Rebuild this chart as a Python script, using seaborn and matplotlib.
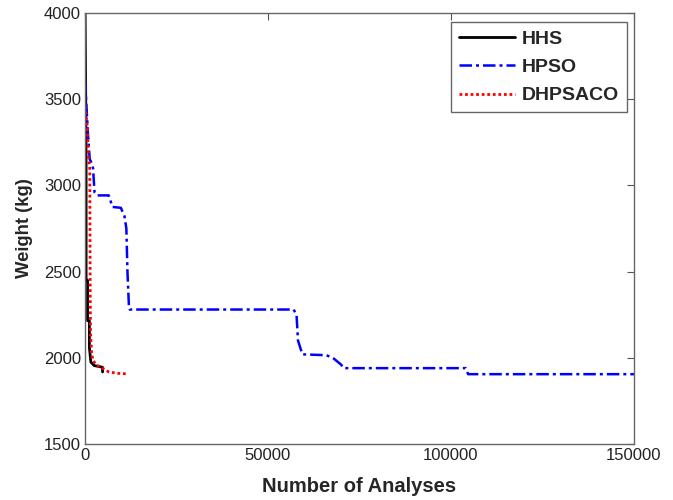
import matplotlib
matplotlib.use("Agg")
import matplotlib.pyplot as plt
import seaborn as sns
import pandas as pd

# Convergence histories: weight (kg) versus number of structural analyses
hhs_x = [0, 200, 300, 300, 700, 700, 1200, 1200, 1600, 2500, 4800, 4800]
hhs_y = [4100, 3500, 3130, 2450, 2450, 2215, 2215, 2060, 1975, 1955, 1945, 1918]

hpso_x = [0, 300, 800, 1300, 1600, 2200, 2600, 3300, 6500, 7500, 9800, 10800,
          11300, 11600, 12000, 12200, 57000, 57800, 58200, 59400, 66000, 68000,
          70000, 70600, 104000, 104700, 150000]
hpso_y = [3610, 3500, 3300, 3150, 3140, 3100, 2960, 2942, 2942, 2875, 2870, 2820,
          2750, 2500, 2300, 2280, 2280, 2250, 2100, 2020, 2015, 1995,
          1960, 1940, 1940, 1905, 1905]

dh_x = [0, 600, 1000, 1300, 1400, 1500, 1800, 2200, 3000, 4400, 6500, 9000, 11200]
dh_y = [3460, 3350, 3150, 3100, 2500, 2150, 2030, 1985, 1960, 1945, 1918, 1910, 1907]

sns.set_theme(style="white")
plt.rcParams["font.family"] = ["Liberation Sans", "DejaVu Sans"]

fig = plt.figure(figsize=(6.73, 5.0), dpi=100)
ax = fig.add_axes([0.1263, 0.112, 0.8157, 0.862])

series = [
    ("HHS", hhs_x, hhs_y, "black", "-", 2.0),
    ("HPSO", hpso_x, hpso_y, "#0000ff", (0, (5, 1.6, 1.2, 1.6)), 1.8),
    ("DHPSACO", dh_x, dh_y, "#ff0000", (0, (1.0, 1.0)), 2.0),
]
for name, xs, ys, col, ls, lw in series:
    df = pd.DataFrame({"x": xs, "y": ys})
    sns.lineplot(data=df, x="x", y="y", ax=ax, sort=False, estimator=None,
                 color=col, linestyle=ls, linewidth=lw, label=name)

ax.set_xlim(0, 150000)
ax.set_ylim(1500, 4000)
ax.set_xticks([0, 50000, 100000, 150000])
ax.set_yticks([1500, 2000, 2500, 3000, 3500, 4000])
ax.tick_params(direction="in", length=5, width=0.8, color="#555555",
               top=True, right=True, labelsize=12, labelcolor="#222222", pad=3)
for sp in ax.spines.values():
    sp.set_color("#666666")
    sp.set_linewidth(1.0)

ax.set_xlabel("Number of Analyses", fontsize=14.5, fontweight="bold", labelpad=10)
ax.set_ylabel("Weight (kg)", fontsize=13.3, fontweight="bold", labelpad=8)

leg = ax.legend(loc="upper right", bbox_to_anchor=(0.987, 0.978), fancybox=False,
                framealpha=1, edgecolor="#666666", prop={"weight": "bold", "size": 14},
                handlelength=2.9, borderpad=0.4, labelspacing=0.55, handletextpad=0.35,
                borderaxespad=0.0)
leg.get_frame().set_linewidth(1.0)

fig.savefig("out.png", dpi=100)
